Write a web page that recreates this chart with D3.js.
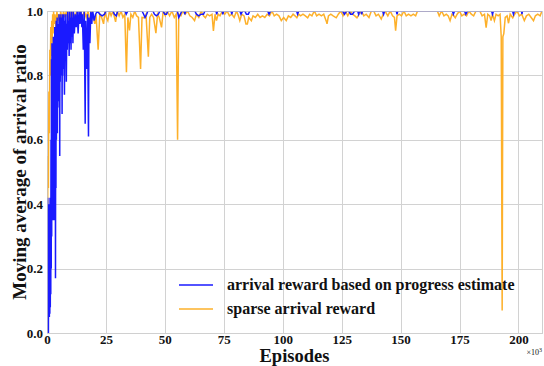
<!DOCTYPE html>
<html>
<head>
<meta charset="utf-8">
<script src="https://cdn.jsdelivr.net/npm/d3@7"></script>
<style>
  html, body { margin: 0; padding: 0; background: #fff; }
  svg { display: block; }
  text { font-family: "Liberation Serif", "Times New Roman", serif; font-weight: bold; fill: #111; }
</style>
</head>
<body>
<svg id="chart" width="544" height="366"></svg>
<script>
// Episode (thousands) and moving-average arrival ratio for each run
const sparsePoints = [
  [0,0.42],[0.2,0.27],[0.4,0.55],[0.6,0.45],[0.8,0.75],[1.0,0.62],[1.2,0.88],[1.4,0.8],[1.6,0.95],[1.8,0.86],
  [2.0,0.97],[2.2,0.9],[2.4,0.99],[2.6,0.93],[2.8,1.0],[3.0,0.96],[3.4,0.99],[3.8,0.94],[4.2,1.0],[4.6,0.97],
  [5.0,0.99],[5.4,0.96],[5.8,1.0],[6.4,0.97],[7.0,1.0],[7.6,0.98],[8.2,1.0],[9.0,0.97],[9.6,1.0],[10.4,0.97],
  [11.0,1.0],[11.8,0.98],[12.6,1.0],[13.4,0.97],[14.2,1.0],[15.0,0.98],[15.8,1.0],[16.6,0.98],[17.4,1.0],[18.2,0.97],
  [19.0,1.0],[19.6,0.98],[20.3,0.96],[20.8,0.99],[21.7,0.88],[22.4,0.99],[23.2,0.98],[24.0,0.96],[24.6,1.0],[25.2,0.98],
  [25.8,0.97],[26.5,1.0],[27.2,0.985],[28.0,1.0],[29.1,0.966],[29.8,1.0],[30.6,0.985],[31.4,1.0],[32.2,0.98],[33.0,0.99],
  [33.7,0.81],[34.3,0.98],[35.0,0.94],[35.6,0.99],[36.4,0.98],[37.2,1.0],[38.0,0.985],[38.8,0.98],[39.7,0.82],[40.3,0.98],
  [41.2,0.979],[42.0,0.99],[43.0,0.858],[43.6,0.98],[44.4,0.99],[45.2,0.98],[46.2,0.931],[46.9,0.99],[47.6,0.98],[48.6,0.949],
  [49.3,1.0],[50.2,0.985],[51.0,1.0],[52.0,0.985],[53.0,1.0],[54.0,0.98],[54.8,0.99],[55.4,0.6],[55.9,0.99],[56.8,0.985],
  [57.6,1.0],[58.6,0.99],[59.6,1.0],[60.6,0.985],[61.6,0.98],[62.6,0.97],[63.4,0.99],[64.4,0.98],[65.4,1.0],[66.4,0.985],
  [67.2,0.979],[68.0,0.99],[69.0,0.985],[70.0,0.99],[70.6,0.938],[71.3,0.99],[71.9,0.97],[72.6,0.99],[73.4,0.985],[74.4,1.0],
  [75.4,0.99],[76.4,1.0],[77.4,0.985],[78.4,0.99],[79.4,0.98],[80.4,1.0],[81.2,0.985],[81.8,0.97],[82.6,0.99],[83.6,0.985],
  [84.4,0.96],[85.0,0.96],[85.6,0.98],[86.7,0.97],[87.4,0.985],[88.4,0.98],[89.4,0.99],[90.4,0.98],[91.4,0.985],[92.4,0.98],
  [93.4,0.99],[94.4,0.985],[95.4,1.0],[96.4,0.985],[97.4,0.99],[98.4,0.985],[99.4,0.97],[100.4,0.98],[101.5,0.97],[102.4,0.985],
  [103.4,0.98],[104.4,0.99],[105.2,0.985],[106.0,0.979],[106.8,0.99],[107.6,0.985],[108.6,0.99],[109.6,0.985],[110.6,0.979],[111.4,0.99],
  [112.4,0.985],[113.4,1.0],[114.4,0.985],[115.4,0.99],[116.4,0.985],[117.4,0.99],[118.4,0.97],[118.8,0.96],[119.4,0.985],[120.4,0.99],
  [121.4,0.985],[122.7,0.979],[123.6,0.99],[124.6,1.0],[125.6,0.985],[126.6,1.0],[127.6,0.985],[128.6,1.0],[129.6,0.99],[130.6,0.985],
  [131.5,0.979],[132.4,0.99],[133.4,1.0],[134.4,0.985],[135.4,0.99],[136.6,0.98],[137.6,1.0],[138.6,1.0],[139.6,0.985],[140.6,0.99],
  [141.8,0.975],[142.6,0.99],[143.4,1.0],[144.6,0.985],[145.6,1.0],[146.6,0.985],[147.4,0.98],[147.9,0.939],[148.5,0.985],[149.4,0.99],
  [150.4,0.985],[151.4,1.0],[152.4,0.985],[153.4,0.99],[154.4,0.985],[155.4,0.99],[156.4,0.985],[157.2,1.0],[165.6,1.0],[166.4,0.985],
  [167.4,1.0],[168.4,0.985],[169.4,0.99],[170.2,0.985],[171.0,0.97],[171.8,0.99],[172.6,0.985],[173.2,0.979],[174.0,0.99],[175.0,1.0],
  [176.0,0.985],[177.0,0.99],[178.0,0.985],[179.0,1.0],[180.0,0.99],[181.0,0.985],[182.0,1.0],[183.6,1.0],[184.6,0.985],[185.6,0.99],
  [186.3,0.948],[187.0,0.99],[187.8,0.985],[188.4,0.97],[189.0,0.99],[189.8,0.97],[190.5,0.99],[191.4,0.985],[192.2,0.99],[192.7,0.92],
  [193.1,0.07],[193.4,0.92],[193.8,0.93],[194.4,0.98],[195.2,0.985],[195.8,0.962],[196.5,0.99],[197.6,0.979],[198.4,0.99],[199.4,1.0],
  [200.4,0.985],[201.4,0.99],[202.5,0.97],[203.4,0.985],[204.4,0.99],[205.4,0.98],[206.4,0.97],[207.2,0.985],[208.2,0.99],[209.2,0.985],
  [210,1.0]
];

const progressPoints = [
  [0,0.0],[0.1,0.2],[0.2,0.03],[0.3,0.42],[0.4,0.1],[0.5,0.38],[0.6,0.0],[0.7,0.35],[0.8,0.05],[0.9,0.4],
  [1.0,0.05],[1.1,0.32],[1.2,0.06],[1.3,0.42],[1.4,0.08],[1.5,0.38],[1.6,0.12],[1.7,0.6],[1.8,0.2],[1.9,0.85],
  [2.0,0.3],[2.1,0.9],[2.2,0.35],[2.3,0.8],[2.4,0.4],[2.5,0.88],[2.6,0.45],[2.7,0.92],[2.8,0.35],[2.9,0.85],
  [3.0,0.35],[3.1,0.9],[3.2,0.55],[3.3,0.95],[3.4,0.6],[3.5,0.85],[3.6,0.17],[3.7,0.8],[3.8,0.45],[3.9,0.97],
  [4.0,0.6],[4.1,0.9],[4.2,0.7],[4.3,0.98],[4.4,0.62],[4.5,0.88],[4.6,0.7],[4.7,0.96],[4.8,0.75],[4.9,0.9],
  [5.0,0.72],[5.1,0.99],[5.2,0.75],[5.3,0.93],[5.4,0.55],[5.5,0.98],[5.6,0.78],[5.7,0.9],[5.8,0.8],[5.9,0.99],
  [6.0,0.8],[6.1,0.95],[6.2,0.8],[6.3,0.98],[6.4,0.68],[6.5,0.95],[6.6,0.8],[6.7,0.99],[6.8,0.84],[6.9,0.96],
  [7.0,0.82],[7.2,0.99],[7.4,0.74],[7.6,0.97],[7.8,0.86],[8.0,0.99],[8.2,0.78],[8.4,0.96],[8.6,0.88],[8.8,1.0],
  [9.0,0.9],[9.2,0.97],[9.4,0.86],[9.6,1.0],[9.8,0.9],[10.0,0.98],[10.2,0.88],[10.4,1.0],[10.6,0.92],[10.8,0.98],
  [11.0,0.9],[11.2,1.0],[11.6,0.93],[12.0,0.99],[12.4,0.95],[12.8,1.0],[13.2,0.93],[13.6,1.0],[14.0,0.96],[14.4,1.0],
  [14.8,0.95],[15.0,0.99],[15.4,0.88],[15.8,1.0],[16.2,0.65],[16.4,0.97],[16.8,0.82],[17.2,0.99],[17.6,0.61],[17.8,0.98],
  [18.2,0.9],[18.6,1.0],[19.0,0.96],[19.4,1.0],[20.0,0.97],[20.6,0.99],[21.4,1.0],[22.4,0.99],[23.4,0.985],[24.4,0.99],
  [25.0,1.0],[28.0,1.0],[28.6,0.99],[29.4,0.985],[30.0,1.0],[33.0,1.0],[33.6,0.99],[34.3,1.0],[40.3,1.0],[41.0,0.99],
  [41.6,0.98],[42.3,0.99],[42.8,1.0],[44.9,1.0],[45.6,0.99],[46.4,0.985],[47.2,0.99],[47.9,1.0],[49.2,1.0],[50.0,0.99],
  [50.7,0.99],[51.3,1.0],[55.3,1.0],[55.9,0.98],[56.6,0.99],[57.2,1.0],[58.2,1.0],[58.5,0.99],[58.8,1.0],[62.7,1.0],
  [63.4,0.99],[64.4,0.985],[65.4,0.99],[66.4,0.99],[67.0,1.0],[71.7,1.0],[72.0,0.99],[72.3,1.0],[74.3,1.0],[74.6,0.99],
  [74.9,1.0],[78.1,1.0],[78.4,0.99],[78.7,1.0],[81.8,1.0],[82.3,0.99],[83.0,1.0],[83.9,1.0],[84.6,0.99],[85.4,0.99],
  [86.0,1.0],[93.6,1.0],[94.2,0.99],[94.9,1.0],[105.9,1.0],[106.3,0.99],[106.8,1.0],[125.4,1.0],[126.2,0.99],[127.1,1.0],
  [128.0,1.0],[128.8,0.99],[129.6,0.99],[130.5,1.0],[131.8,1.0],[132.2,0.99],[132.6,1.0],[133.2,1.0],[133.5,0.99],[133.8,1.0],
  [142.4,1.0],[142.8,0.99],[143.2,1.0],[148.2,1.0],[148.5,0.99],[148.8,1.0],[172.0,1.0],[172.4,0.99],[172.9,1.0],[177.1,1.0],
  [177.7,0.99],[178.4,1.0],[188.6,1.0],[189.0,0.99],[189.4,1.0],[197.5,1.0],[197.9,0.99],[198.3,1.0],[201.3,1.0],[201.5,0.99],
  [201.7,1.0],[210,1.0]
];

const seriesNames = ["arrival reward based on progress estimate", "sparse arrival reward"];
const seriesColors = ["#1a1aff", "#fdb02a"];
const xTicks = [0, 25, 50, 75, 100, 125, 150, 175, 200];
const yTicks = [0.0, 0.2, 0.4, 0.6, 0.8, 1.0];

const svg = d3.select("#chart");
const plot = { left: 47, right: 542, top: 11, bottom: 333 };

const x = d3.scaleLinear().domain([0, 210]).range([plot.left, plot.right]);
const y = d3.scaleLinear().domain([0, 1]).range([plot.bottom, plot.top]);

// grid
const grid = svg.append("g").attr("stroke", "#d2d2d2").attr("stroke-width", 1);
grid.selectAll("line.vx").data(xTicks.filter(d => d > 0)).join("line")
  .attr("x1", d => Math.round(x(d)) + 0.5).attr("x2", d => Math.round(x(d)) + 0.5)
  .attr("y1", plot.top).attr("y2", plot.bottom);
grid.selectAll("line.hy").data(yTicks.filter(d => d > 0 && d < 1)).join("line")
  .attr("x1", plot.left).attr("x2", plot.right)
  .attr("y1", d => Math.round(y(d)) + 0.5).attr("y2", d => Math.round(y(d)) + 0.5);

svg.append("clipPath").attr("id", "plotClip").append("rect")
  .attr("x", plot.left).attr("y", plot.top)
  .attr("width", plot.right - plot.left).attr("height", plot.bottom - plot.top);

const line = d3.line().x(d => x(d[0])).y(d => y(d[1]));
const lines = svg.append("g").attr("clip-path", "url(#plotClip)");
lines.append("path").datum(sparsePoints)
  .attr("fill", "none").attr("stroke", seriesColors[1]).attr("stroke-width", 1.5)
  .attr("stroke-linejoin", "miter").attr("d", line);
lines.append("path").datum(progressPoints)
  .attr("fill", "none").attr("stroke", seriesColors[0]).attr("stroke-width", 1.5)
  .attr("stroke-linejoin", "miter").attr("d", line);

// frame drawn over the curves
svg.append("rect")
  .attr("x", plot.left + 0.5).attr("y", plot.top + 0.5)
  .attr("width", plot.right - plot.left).attr("height", plot.bottom - plot.top)
  .attr("fill", "none").attr("stroke", "#c4c4c4").attr("stroke-opacity", 0.8).attr("stroke-width", 1);

// axes
const xAxis = svg.append("g").attr("transform", `translate(0,${plot.bottom})`)
  .call(d3.axisBottom(x).tickValues(xTicks).tickSize(0).tickFormat(d3.format("d")));
xAxis.select(".domain").remove();
xAxis.selectAll("text").attr("font-size", 13).attr("dy", null).attr("y", 11)
  .style("font-family", "'Liberation Serif', serif").style("font-weight", "bold").attr("fill", "#111");

const yAxis = svg.append("g").attr("transform", `translate(${plot.left},0)`)
  .call(d3.axisLeft(y).tickValues(yTicks).tickSize(0).tickPadding(4).tickFormat(d3.format(".1f")));
yAxis.select(".domain").remove();
yAxis.selectAll("text").attr("font-size", 13)
  .style("font-family", "'Liberation Serif', serif").style("font-weight", "bold").attr("fill", "#111");

// axis titles
svg.append("text").attr("x", (plot.left + plot.right) / 2).attr("y", 362)
  .attr("text-anchor", "middle").attr("font-size", 18.5).text("Episodes");

svg.append("text")
  .attr("transform", `translate(26,${(plot.top + plot.bottom) / 2}) rotate(-90)`)
  .attr("text-anchor", "middle").attr("font-size", 19).text("Moving average of arrival ratio");

// multiplier note
const mult = svg.append("text").attr("x", 542).attr("y", 355).attr("text-anchor", "end")
  .attr("font-size", 8).style("font-weight", "normal");
mult.append("tspan").text("×10");
mult.append("tspan").attr("dy", -3).attr("font-size", 6).text("3");

// legend
const legend = svg.append("g");
seriesNames.forEach((name, i) => {
  const ly = 285 + i * 24;
  legend.append("line").attr("x1", 179).attr("x2", 213).attr("y1", ly).attr("y2", ly)
    .attr("stroke", seriesColors[i]).attr("stroke-width", 1.5);
  legend.append("text").attr("x", 227).attr("y", ly + 5).attr("font-size", 16).text(name);
});
</script>
</body>
</html>
